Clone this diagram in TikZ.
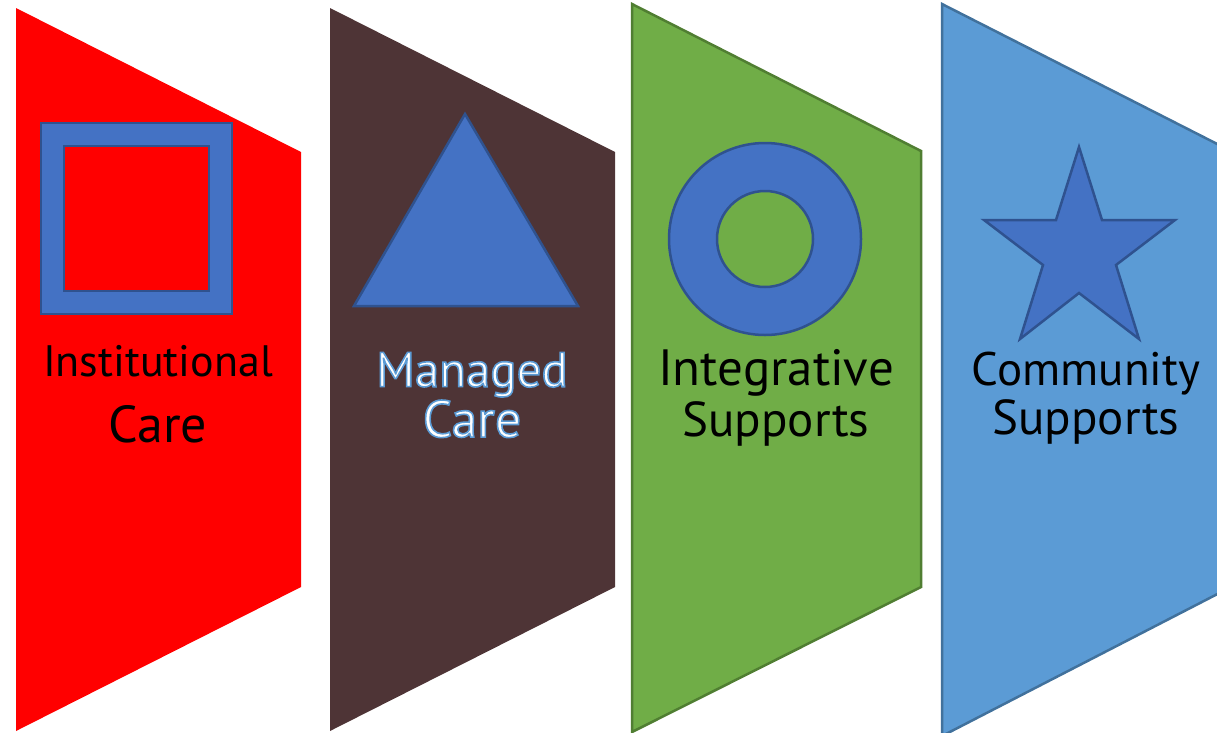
\documentclass[tikz,border=0pt]{standalone}
\usepackage{fontspec}
\setmainfont{PT Sans}
\definecolor{shapeblue}{HTML}{4472C4}
\definecolor{shapeedge}{HTML}{2F528F}
\definecolor{panelbrown}{HTML}{4E3436}
\definecolor{panelgreen}{HTML}{70AD47}
\definecolor{edgegreen}{HTML}{507E32}
\definecolor{panelblue}{HTML}{5B9BD5}
\definecolor{edgeblue}{HTML}{41719C}
\newcommand{\sz}[2]{\fontsize{#1}{#2}\selectfont}
\tikzset{
  x=1pt,y=-1pt,
  emblem/.style={fill=shapeblue,draw=shapeedge,line width=2.5pt,even odd rule,line join=miter},
  panel/.style={line width=2.5pt,line join=miter},
  label/.style={align=center,inner sep=0pt,text=black},
}
\begin{document}
\begin{tikzpicture}
\useasboundingbox (0,0) rectangle (1217,732);
\clip (0,0) rectangle (1217,732);
% panels
\path[panel,fill=red] (16,8) -- (301,152) -- (301,587) -- (16,731) -- cycle;
\path[panel,fill=panelbrown] (330,8) -- (615,152) -- (615,587) -- (330,731) -- cycle;
\path[panel,fill=panelgreen,draw=edgegreen] (632,4) -- (921,151) -- (921,587) -- (632,732) -- cycle;
\path[panel,fill=panelblue,draw=edgeblue] (942,4) -- (1231,151) -- (1231,587) -- (942,736) -- cycle;
% emblems
\path[emblem] (41,123) rectangle (232,314) (64,146) rectangle (209,291);
\path[emblem] (465,114) -- (578,306) -- (354,306) -- cycle;
\path[emblem] (765,239) circle[radius=96] (765,239) circle[radius=48];
\path[emblem] (1079,147) -- (1102,220) -- (1175,220) -- (1116,265) -- (1139,339) -- (1079,293) -- (1020,339) -- (1043,265) -- (984,220) -- (1056,220) -- cycle;
% labels
\node[label] (inst) at (158,394) {\sz{44}{65}Institutional\\[27pt]\sz{52}{65}Care};
\node[label] (mana) at (472,395) {\special{pdf:code q 2 Tr 1.6 w 0.357 0.608 0.835 RG 1 1 1 rg}\sz{49}{49}Managed\\[2pt]\sz{52}{49}Care\special{pdf:code Q}};
\node[label] (inte) at (776,398) {\sz{51}{49}Integrative\\[4pt]\sz{49}{49}Supports};
\node[label] (comm) at (1086,398) {\sz{47}{49}Community\\[4pt]\sz{49}{49}Supports};
\end{tikzpicture}
\end{document}
